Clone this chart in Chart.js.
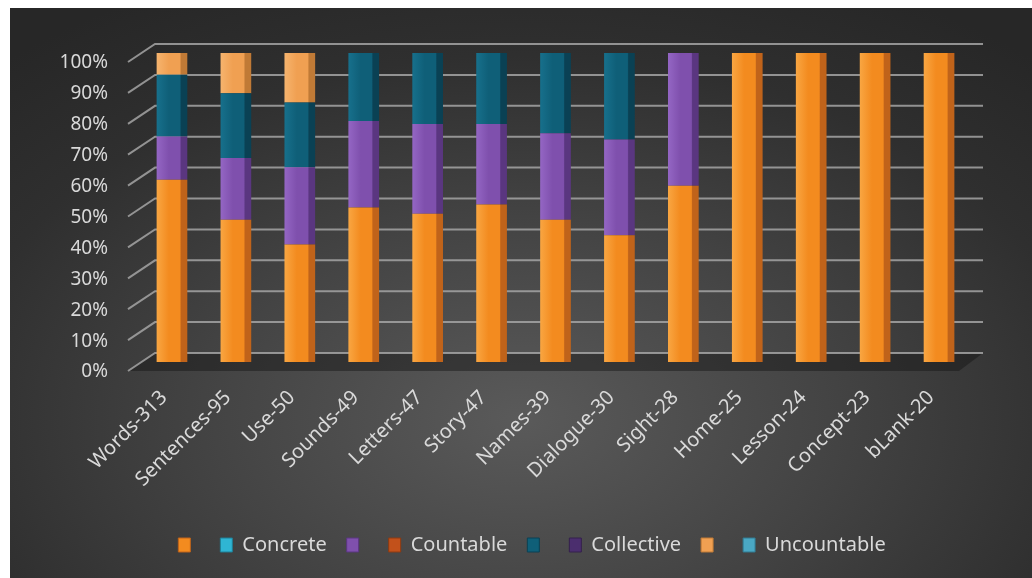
<!DOCTYPE html>
<html>
<head>
<meta charset="utf-8">
<script src="https://cdn.jsdelivr.net/npm/chart.js@4.4.0/dist/chart.umd.min.js"></script>
<style>
  html, body { margin: 0; padding: 0; background: #fff; }
  #wrap {
    position: absolute; left: 10px; top: 8px; width: 1022px; height: 570px;
    background: radial-gradient(ellipse 75% 85% at 50% 72%, #5a5a5a 0%, #444 40%, #2f2f2f 75%, #272727 100%);
  }
</style>
</head>
<body>
<div id="wrap"><canvas id="myChart" width="1022" height="570"></canvas></div>
<script>
// categorias y valores (% de cada columna)
const categories = ['Words-313', 'Sentences-95', 'Use-50', 'Sounds-49', 'Letters-47', 'Story-47',
    'Names-39', 'Dialogue-30', 'Sight-28', 'Home-25', 'Lesson-24', 'Concept-23', 'bLank-20'];
const seriesNames = ['', 'Concrete', '', 'Countable', '', 'Collective', '', 'Uncountable'];

const serie1 = [59, 46, 38, 50, 48, 51, 46, 41, 57, 100, 100, 100, 100];
const concrete = [0, 0, 0, 0, 0, 0, 0, 0, 0, 0, 0, 0, 0];
const serie3 = [14, 20, 25, 28, 29, 26, 28, 31, 43, 0, 0, 0, 0];
const countable = [0, 0, 0, 0, 0, 0, 0, 0, 0, 0, 0, 0, 0];
const serie5 = [20, 21, 21, 22, 23, 23, 26, 28, 0, 0, 0, 0, 0];
const collective = [0, 0, 0, 0, 0, 0, 0, 0, 0, 0, 0, 0, 0];
const serie7 = [7, 13, 16, 0, 0, 0, 0, 0, 0, 0, 0, 0, 0];
const uncountable = [0, 0, 0, 0, 0, 0, 0, 0, 0, 0, 0, 0, 0];

const yTicks = [0, 10, 20, 30, 40, 50, 60, 70, 80, 90, 100];

// colores: [claro, base, lado oscuro]
const colors = [
    ['#f9a642', '#f38b1f', '#c0631a'],
    ['#5fd2ea', '#2fb5d3', '#1f7f96'],
    ['#9466c4', '#7f50ad', '#5a3680'],
    ['#d8652a', '#c2511b', '#8e3a12'],
    ['#17708c', '#0f5f78', '#0a4154'],
    ['#5e3d86', '#4b2e6e', '#34204d'],
    ['#f6b46e', '#f0a052', '#c07a36'],
    ['#6cc0da', '#4aa8c4', '#317a91']
];
const BAR_PCT = 0.48;

function faceFill(c) {
    return (ctx) => {
        const chart = ctx.chart;
        const x = chart.scales.x;
        if (!chart.chartArea || !x || ctx.type !== 'data') return c[1];
        const cx = x.getPixelForValue(ctx.dataIndex);
        const w = x.width / categories.length * BAR_PCT;
        const g = chart.ctx.createLinearGradient(cx - w / 2, 0, cx + w / 2, 0);
        g.addColorStop(0, c[0]);
        g.addColorStop(0.4, c[1]);
        g.addColorStop(0.76, c[1]);
        g.addColorStop(0.8, c[2]);
        g.addColorStop(1, c[2]);
        return g;
    };
}

const allData = [serie1, concrete, serie3, countable, serie5, collective, serie7, uncountable];
const datasets = allData.map((d, i) => ({
    label: seriesNames[i],
    data: d,
    backgroundColor: faceFill(colors[i]),
    borderWidth: 0,
    barPercentage: BAR_PCT,
    categoryPercentage: 1
}));

// paredes y lineas de fondo (efecto 3D)
const wallPlugin = {
    id: 'wall',
    beforeDatasetsDraw(chart) {
        const {ctx, chartArea, scales: {y}} = chart;
        const l = chartArea.left, r = chartArea.right;
        ctx.save();
        const y0 = y.getPixelForValue(0);
        ctx.fillStyle = 'rgba(20,20,20,0.45)';
        ctx.beginPath();
        ctx.moveTo(l + 15, y0 - 9);
        ctx.lineTo(r + 12, y0 - 9);
        ctx.lineTo(r - 12, y0 + 9);
        ctx.lineTo(l - 12, y0 + 9);
        ctx.closePath();
        ctx.fill();
        ctx.strokeStyle = 'rgba(165,165,165,0.85)';
        ctx.lineWidth = 2;
        yTicks.forEach(v => {
            const p = y.getPixelForValue(v);
            ctx.beginPath();
            ctx.moveTo(l - 12, p + 9);
            ctx.lineTo(l + 15, p - 9);
            ctx.lineTo(r + 12, p - 9);
            ctx.stroke();
        });
        ctx.restore();
    }
};

const ctx = document.getElementById('myChart').getContext('2d');
const myChart = new Chart(ctx, {
    type: 'bar',
    data: {
        labels: categories,
        datasets: datasets
    },
    plugins: [wallPlugin],
    options: {
        responsive: false,
        animation: false,
        layout: { padding: { left: 22, right: 0, top: 45, bottom: 13 } },
        plugins: {
            tooltip: { enabled: false },
            legend: {
                position: 'bottom',
                labels: {
                    color: '#d9d9d9',
                    font: { family: 'Noto Sans', size: 20 },
                    boxWidth: 12,
                    boxHeight: 14,
                    padding: 20,
                    generateLabels: (chart) => seriesNames.map((n, i) => ({
                        text: n,
                        fillStyle: colors[i][1],
                        strokeStyle: colors[i][2],
                        lineWidth: 1,
                        fontColor: '#d9d9d9',
                        datasetIndex: i
                    }))
                }
            }
        },
        scales: {
            x: {
                stacked: true,
                grid: { display: false, drawTicks: false },
                border: { display: false },
                ticks: {
                    color: '#d9d9d9',
                    font: { family: 'Noto Sans', size: 20 },
                    minRotation: 45,
                    maxRotation: 45,
                    padding: 24,
                    labelOffset: -8,
                    autoSkip: false
                },
                afterFit: (s) => { s.height = 153; }
            },
            y: {
                stacked: true,
                min: 0,
                max: 100,
                grid: { display: false, drawTicks: false },
                border: { display: false },
                ticks: {
                    stepSize: 10,
                    color: '#d9d9d9',
                    font: { family: 'Noto Sans', size: 19 },
                    padding: 32,
                    labelOffset: 10,
                    callback: (v) => v + '%'
                },
                afterFit: (s) => { s.width = 108; }
            },
            // eje vacio a la derecha, solo para el margen
            yRight: {
                type: 'linear',
                position: 'right',
                display: true,
                grid: { display: false, drawTicks: false },
                border: { display: false },
                ticks: { display: false },
                afterFit: (s) => { s.width = 61; }
            }
        }
    }
});
</script>
</body>
</html>
